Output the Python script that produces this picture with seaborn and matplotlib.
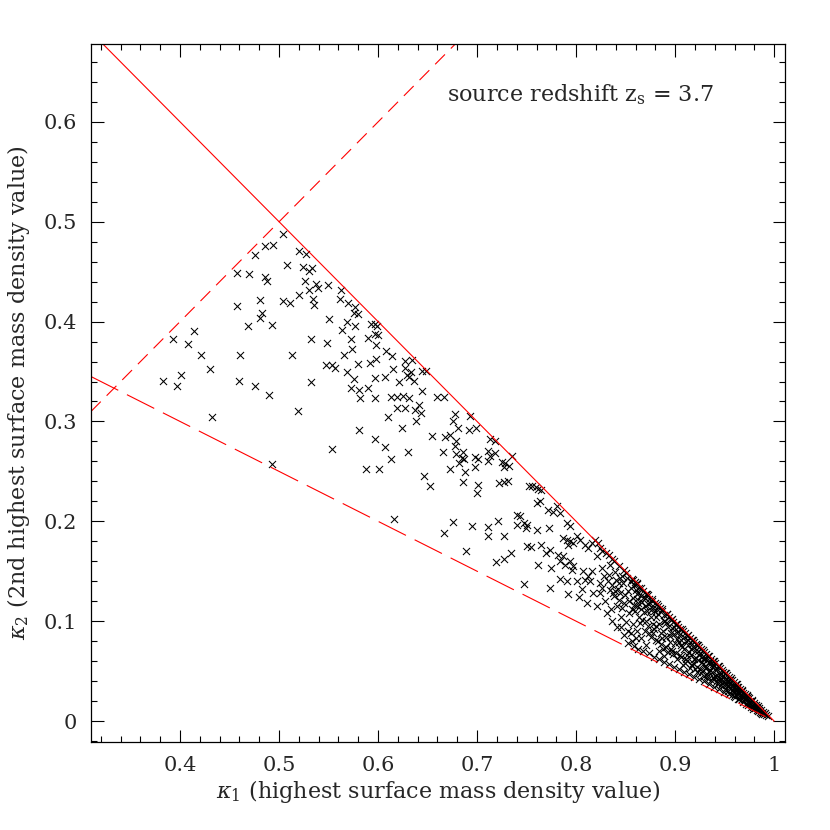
import numpy as np
import pandas as pd
import seaborn as sns
import matplotlib.pyplot as plt
from matplotlib.ticker import MultipleLocator, FixedLocator, FixedFormatter

# values
# sparse part of the sample (kappa1 < 0.82)
kappa1_sparse = [
    0.504, 0.486, 0.494, 0.476, 0.520, 0.527, 0.508, 0.524, 0.533, 0.530, 0.458, 0.470, 0.486, 0.488,
    0.526, 0.537, 0.539, 0.549, 0.530, 0.520, 0.481, 0.504, 0.511, 0.534, 0.535, 0.457, 0.483, 0.481,
    0.550, 0.469, 0.493, 0.414, 0.393, 0.532, 0.548, 0.408, 0.421, 0.461, 0.513, 0.430, 0.401, 0.547,
    0.553, 0.383, 0.397, 0.460, 0.476, 0.532, 0.490, 0.519, 0.432, 0.553, 0.493,
    0.563, 0.562, 0.570, 0.577, 0.576, 0.580, 0.569, 0.577, 0.593, 0.597, 0.599, 0.564, 0.597, 0.600,
    0.590, 0.573, 0.598, 0.574, 0.608, 0.614, 0.566, 0.598, 0.592, 0.580, 0.556, 0.627, 0.634, 0.615,
    0.627, 0.629, 0.633, 0.631, 0.636, 0.644, 0.648, 0.569, 0.576, 0.597, 0.607, 0.621, 0.573, 0.581,
    0.590, 0.644, 0.613, 0.619, 0.625, 0.631, 0.660, 0.667, 0.582, 0.597,
    0.641, 0.637, 0.643, 0.619, 0.627, 0.610, 0.638, 0.624, 0.581, 0.678, 0.676, 0.681, 0.693, 0.692,
    0.654, 0.668, 0.673, 0.597, 0.679, 0.678, 0.607, 0.630, 0.666, 0.679, 0.686, 0.685, 0.682, 0.687,
    0.613, 0.588, 0.601, 0.673, 0.688, 0.646, 0.686,
    0.699, 0.713, 0.718, 0.711, 0.718, 0.713, 0.711, 0.698, 0.701, 0.735, 0.725, 0.728, 0.727, 0.732,
    0.698, 0.701, 0.722, 0.727, 0.731, 0.752, 0.755, 0.759, 0.762, 0.765, 0.700,
    0.760, 0.764, 0.772, 0.777, 0.781, 0.784, 0.740, 0.743, 0.740, 0.747, 0.749, 0.750, 0.721, 0.695,
    0.711, 0.711, 0.727, 0.760, 0.773, 0.791, 0.794, 0.787, 0.791, 0.794, 0.797, 0.792, 0.801, 0.804,
    0.809, 0.812, 0.816, 0.819, 0.750, 0.754, 0.765, 0.774, 0.770, 0.734, 0.727, 0.719,
    0.762, 0.775, 0.782, 0.787, 0.784, 0.789, 0.794, 0.797, 0.796, 0.807, 0.812, 0.816, 0.784, 0.791,
    0.801, 0.809, 0.814, 0.747, 0.774, 0.652, 0.616, 0.676, 0.667, 0.689,
    0.792, 0.803, 0.811, 0.817, 0.806,
]
kappa2_sparse = [
    0.488, 0.476, 0.477, 0.467, 0.471, 0.468, 0.457, 0.455, 0.454, 0.451, 0.449, 0.448, 0.445, 0.441,
    0.441, 0.438, 0.434, 0.437, 0.432, 0.427, 0.422, 0.421, 0.419, 0.423, 0.417, 0.416, 0.409, 0.404,
    0.403, 0.396, 0.397, 0.391, 0.383, 0.383, 0.379, 0.378, 0.367, 0.367, 0.367, 0.353, 0.347, 0.357,
    0.357, 0.341, 0.336, 0.341, 0.336, 0.340, 0.327, 0.310, 0.304, 0.272, 0.257,
    0.432, 0.423, 0.419, 0.415, 0.409, 0.408, 0.400, 0.396, 0.398, 0.398, 0.396, 0.392, 0.388, 0.387,
    0.384, 0.383, 0.377, 0.373, 0.371, 0.366, 0.367, 0.363, 0.359, 0.358, 0.354, 0.361, 0.362, 0.353,
    0.354, 0.347, 0.350, 0.345, 0.341, 0.351, 0.351, 0.350, 0.343, 0.344, 0.345, 0.340, 0.334, 0.332,
    0.334, 0.331, 0.325, 0.324, 0.326, 0.323, 0.325, 0.325, 0.323, 0.323,
    0.316, 0.311, 0.308, 0.313, 0.313, 0.304, 0.300, 0.293, 0.291, 0.307, 0.300, 0.293, 0.305, 0.291,
    0.285, 0.284, 0.286, 0.282, 0.280, 0.275, 0.274, 0.269, 0.269, 0.267, 0.269, 0.263, 0.258, 0.262,
    0.262, 0.252, 0.252, 0.252, 0.249, 0.245, 0.239,
    0.293, 0.282, 0.280, 0.270, 0.268, 0.265, 0.260, 0.264, 0.262, 0.265, 0.259, 0.258, 0.254, 0.255,
    0.254, 0.236, 0.238, 0.239, 0.240, 0.235, 0.235, 0.234, 0.232, 0.231, 0.228,
    0.218, 0.220, 0.211, 0.209, 0.215, 0.208, 0.206, 0.205, 0.196, 0.198, 0.193, 0.196, 0.200, 0.195,
    0.194, 0.185, 0.185, 0.191, 0.193, 0.198, 0.195, 0.183, 0.181, 0.180, 0.178, 0.176, 0.185, 0.181,
    0.176, 0.173, 0.178, 0.181, 0.175, 0.174, 0.176, 0.171, 0.168, 0.168, 0.162, 0.159,
    0.156, 0.153, 0.166, 0.165, 0.160, 0.156, 0.160, 0.155, 0.151, 0.150, 0.145, 0.150, 0.142, 0.140,
    0.140, 0.141, 0.140, 0.137, 0.133, 0.235, 0.202, 0.199, 0.188, 0.170,
    0.127, 0.124, 0.118, 0.128, 0.132,
]

# dense part of the sample near kappa1 = 1
kappa1_dense = [
    0.822, 0.824, 0.826, 0.821, 0.833, 0.826, 0.848, 0.850, 0.846, 0.851, 0.833, 0.828, 0.840, 0.843,
    0.836, 0.857, 0.858, 0.855, 0.860, 0.824, 0.826, 0.824, 0.834, 0.839, 0.844, 0.849, 0.838, 0.863,
    0.866, 0.870, 0.873, 0.843, 0.848, 0.853, 0.858, 0.863, 0.870, 0.875, 0.878, 0.883, 0.841, 0.846,
    0.821, 0.831, 0.836, 0.841, 0.845, 0.852, 0.856, 0.848, 0.829, 0.835, 0.853, 0.857, 0.855, 0.859,
    0.838, 0.843, 0.830, 0.836,
    0.861, 0.864, 0.868, 0.862, 0.867, 0.859, 0.864, 0.869, 0.857, 0.862, 0.866, 0.871, 0.874, 0.877,
    0.872, 0.876, 0.873, 0.878, 0.871, 0.880, 0.882, 0.885, 0.881, 0.884, 0.879, 0.886, 0.883, 0.888,
    0.887, 0.889, 0.892, 0.890, 0.893, 0.888, 0.891, 0.895, 0.889, 0.894, 0.896, 0.898, 0.897, 0.899,
    0.895, 0.900, 0.897, 0.902, 0.901, 0.903, 0.905, 0.904, 0.906, 0.902, 0.907, 0.905, 0.908, 0.908,
    0.910, 0.912, 0.911, 0.913, 0.909, 0.914, 0.911, 0.915, 0.915, 0.917, 0.919, 0.918, 0.920, 0.916,
    0.921, 0.918, 0.922, 0.922, 0.924, 0.926, 0.925, 0.927, 0.923, 0.928, 0.925, 0.929, 0.929, 0.931,
    0.933, 0.932, 0.934, 0.930, 0.935, 0.932, 0.936, 0.936, 0.938, 0.940, 0.939, 0.941, 0.937, 0.942,
    0.939, 0.943, 0.943, 0.945, 0.947, 0.946, 0.948, 0.944, 0.949, 0.946, 0.950, 0.950, 0.952, 0.954,
    0.953, 0.955, 0.951, 0.956, 0.953, 0.957, 0.957, 0.959, 0.961, 0.960, 0.962, 0.958, 0.963, 0.960,
    0.964, 0.966, 0.968, 0.967, 0.969, 0.965, 0.970, 0.971, 0.973, 0.975, 0.974, 0.976, 0.972, 0.978,
    0.980, 0.982, 0.981, 0.983, 0.979, 0.985, 0.987, 0.986, 0.989, 0.990, 0.992, 0.988,
    0.852, 0.858, 0.863, 0.868, 0.874, 0.879, 0.884, 0.889, 0.894, 0.899, 0.904, 0.909, 0.914, 0.919,
    0.924, 0.929, 0.934, 0.939, 0.944, 0.949, 0.954, 0.959, 0.964, 0.969, 0.974, 0.979, 0.984,
    0.865, 0.870, 0.876, 0.881, 0.886, 0.891, 0.896, 0.901, 0.906, 0.912, 0.917, 0.922, 0.927, 0.932,
    0.938, 0.944, 0.949, 0.955, 0.961, 0.966, 0.972, 0.977, 0.982,
    0.856, 0.861, 0.866, 0.872, 0.877, 0.882, 0.887, 0.892, 0.897, 0.902, 0.907, 0.913, 0.918, 0.923,
    0.928, 0.934, 0.939, 0.944, 0.951, 0.956, 0.962, 0.968, 0.973, 0.978, 0.984, 0.991, 0.994,
    0.832, 0.837, 0.842, 0.847, 0.852, 0.856, 0.861, 0.866, 0.871, 0.876, 0.881, 0.845, 0.850, 0.855,
    0.860, 0.834, 0.839, 0.844,
]
kappa2_dense = [
    0.178, 0.173, 0.170, 0.165, 0.166, 0.153, 0.151, 0.148, 0.145, 0.143, 0.146, 0.145, 0.141, 0.138,
    0.136, 0.141, 0.136, 0.133, 0.131, 0.138, 0.133, 0.128, 0.131, 0.130, 0.128, 0.126, 0.125, 0.128,
    0.125, 0.123, 0.126, 0.121, 0.118, 0.120, 0.116, 0.118, 0.115, 0.118, 0.113, 0.115, 0.115, 0.113,
    0.115, 0.108, 0.100, 0.094, 0.104, 0.090, 0.080, 0.086, 0.120, 0.112, 0.108, 0.123, 0.140, 0.139,
    0.160, 0.155, 0.168, 0.162,
    0.137, 0.133, 0.130, 0.122, 0.119, 0.110, 0.104, 0.109, 0.097, 0.090, 0.083, 0.127, 0.122, 0.120,
    0.110, 0.104, 0.095, 0.088, 0.076, 0.118, 0.112, 0.113, 0.104, 0.097, 0.092, 0.088, 0.080, 0.072,
    0.110, 0.106, 0.107, 0.100, 0.094, 0.090, 0.084, 0.079, 0.065, 0.104, 0.101, 0.099, 0.093, 0.087,
    0.085, 0.078, 0.070, 0.062, 0.097, 0.094, 0.092, 0.086, 0.081, 0.082, 0.074, 0.066, 0.056, 0.090,
    0.088, 0.085, 0.080, 0.076, 0.072, 0.069, 0.062, 0.053, 0.083, 0.081, 0.079, 0.074, 0.070, 0.066,
    0.063, 0.058, 0.049, 0.076, 0.074, 0.072, 0.068, 0.064, 0.061, 0.057, 0.052, 0.045, 0.069, 0.067,
    0.065, 0.061, 0.058, 0.055, 0.051, 0.047, 0.041, 0.062, 0.060, 0.058, 0.055, 0.051, 0.049, 0.046,
    0.042, 0.037, 0.055, 0.053, 0.051, 0.048, 0.045, 0.043, 0.040, 0.036, 0.032, 0.048, 0.046, 0.044,
    0.041, 0.038, 0.036, 0.033, 0.030, 0.026, 0.041, 0.039, 0.037, 0.034, 0.031, 0.029, 0.027, 0.024,
    0.034, 0.032, 0.030, 0.027, 0.024, 0.022, 0.020, 0.027, 0.025, 0.023, 0.020, 0.018, 0.017, 0.020,
    0.018, 0.016, 0.013, 0.011, 0.014, 0.013, 0.011, 0.009, 0.009, 0.007, 0.006, 0.007,
    0.078, 0.075, 0.072, 0.070, 0.068, 0.064, 0.062, 0.059, 0.057, 0.054, 0.052, 0.049, 0.047, 0.044,
    0.042, 0.040, 0.037, 0.034, 0.032, 0.029, 0.027, 0.025, 0.022, 0.019, 0.016, 0.012, 0.010,
    0.098, 0.090, 0.084, 0.081, 0.077, 0.074, 0.072, 0.068, 0.064, 0.060, 0.056, 0.054, 0.050, 0.045,
    0.044, 0.040, 0.036, 0.034, 0.030, 0.026, 0.023, 0.017, 0.014,
    0.142, 0.138, 0.133, 0.127, 0.122, 0.117, 0.112, 0.107, 0.102, 0.097, 0.092, 0.086, 0.081, 0.076,
    0.071, 0.065, 0.060, 0.055, 0.048, 0.043, 0.037, 0.031, 0.026, 0.021, 0.015, 0.008, 0.005,
    0.140, 0.128, 0.132, 0.138, 0.130, 0.112, 0.115, 0.112, 0.100, 0.111, 0.095, 0.094, 0.099, 0.088,
    0.083, 0.156, 0.149, 0.143,
]

# extra points that fill the black band between kappa1 = 0.86 and 0.99
kappa1_fill = [
    0.862, 0.867, 0.873, 0.878, 0.883, 0.887, 0.891, 0.896, 0.898, 0.903, 0.906, 0.910, 0.913, 0.916, 0.919,
    0.921, 0.924, 0.926, 0.928, 0.931, 0.933, 0.935, 0.937, 0.940, 0.942, 0.945, 0.947, 0.948, 0.951, 0.953,
    0.955, 0.958, 0.959, 0.962, 0.964, 0.967, 0.969, 0.971, 0.974, 0.976, 0.977, 0.980, 0.983, 0.985, 0.987,
    0.869, 0.874, 0.879, 0.884, 0.889, 0.893, 0.899, 0.904, 0.909, 0.912, 0.917, 0.920, 0.923, 0.927, 0.930,
    0.934, 0.938, 0.941, 0.946, 0.952, 0.957, 0.963, 0.968,
]
kappa2_fill = [
    0.127, 0.101, 0.117, 0.097, 0.107, 0.083, 0.098, 0.088, 0.067, 0.089, 0.076, 0.058, 0.081, 0.072, 0.062,
    0.077, 0.066, 0.048, 0.062, 0.053, 0.042, 0.060, 0.054, 0.045, 0.052, 0.046, 0.038, 0.049, 0.042, 0.035,
    0.041, 0.036, 0.028, 0.034, 0.029, 0.025, 0.028, 0.022, 0.024, 0.020, 0.014, 0.016, 0.013, 0.011, 0.008,
    0.124, 0.088, 0.110, 0.070, 0.100, 0.069, 0.094, 0.079, 0.084, 0.066, 0.077, 0.052, 0.070, 0.059, 0.063,
    0.049, 0.057, 0.039, 0.042, 0.039, 0.031, 0.032, 0.022,
]

# limits for the reference lines
line_k1 = [0.31, 1.0]
diag_k1 = [0.31, 0.678]

x_ticks = [0.4, 0.5, 0.6, 0.7, 0.8, 0.9, 1.0]
x_tick_labels = ['0.4', '0.5', '0.6', '0.7', '0.8', '0.9', '1']
y_ticks = [0.0, 0.1, 0.2, 0.3, 0.4, 0.5, 0.6]
y_tick_labels = ['0', '0.1', '0.2', '0.3', '0.4', '0.5', '0.6']

df = pd.DataFrame({
    'kappa1': kappa1_sparse + kappa1_dense + kappa1_fill,
    'kappa2': kappa2_sparse + kappa2_dense + kappa2_fill,
})

sns.set_style('ticks')
plt.rcParams['font.family'] = ['DejaVu Serif']
plt.rcParams['mathtext.fontset'] = 'dejavuserif'
plt.rcParams['lines.scale_dashes'] = False

fig = plt.figure(figsize=(8.3, 8.3), dpi=100)
ax = fig.add_axes([0.1096, 0.106, 0.8362, 0.841])

# boundary lines
sns.lineplot(x=line_k1, y=[1 - k for k in line_k1], color='red', lw=0.8, ax=ax)
sns.lineplot(x=diag_k1, y=diag_k1, color='red', lw=0.8, linestyle=(0, (10, 6)), ax=ax)
sns.lineplot(x=line_k1, y=[(1 - k) / 2 for k in line_k1], color='red', lw=0.8,
             linestyle=(0, (22, 7)), ax=ax)

sns.scatterplot(data=df, x='kappa1', y='kappa2', marker='x', color='black',
                s=26, linewidth=0.75, ax=ax)

ax.set_xlim(0.31, 1.011)
ax.set_ylim(-0.021, 0.678)

ax.xaxis.set_major_locator(FixedLocator(x_ticks))
ax.xaxis.set_major_formatter(FixedFormatter(x_tick_labels))
ax.yaxis.set_major_locator(FixedLocator(y_ticks))
ax.yaxis.set_major_formatter(FixedFormatter(y_tick_labels))
ax.xaxis.set_minor_locator(MultipleLocator(0.02))
ax.yaxis.set_minor_locator(MultipleLocator(0.02))
ax.tick_params(which='both', direction='in', top=True, right=True, color='black', width=0.8)
ax.tick_params(which='major', length=9, labelsize=15, pad=10)
ax.tick_params(which='minor', length=4.5)
for sp in ax.spines.values():
    sp.set_linewidth(0.9)
    sp.set_color('black')

ax.set_xlabel(r'$\kappa_1$ (highest surface mass density value)', fontsize=16, labelpad=2)
ax.set_ylabel(r'$\kappa_2$ (2nd highest surface mass density value)', fontsize=16, labelpad=8)
ax.text(0.670, 0.627, r'source redshift z$_{\rm s}$ = 3.7', fontsize=16, va='center')

fig.savefig('out.png', dpi=100, facecolor='white')
